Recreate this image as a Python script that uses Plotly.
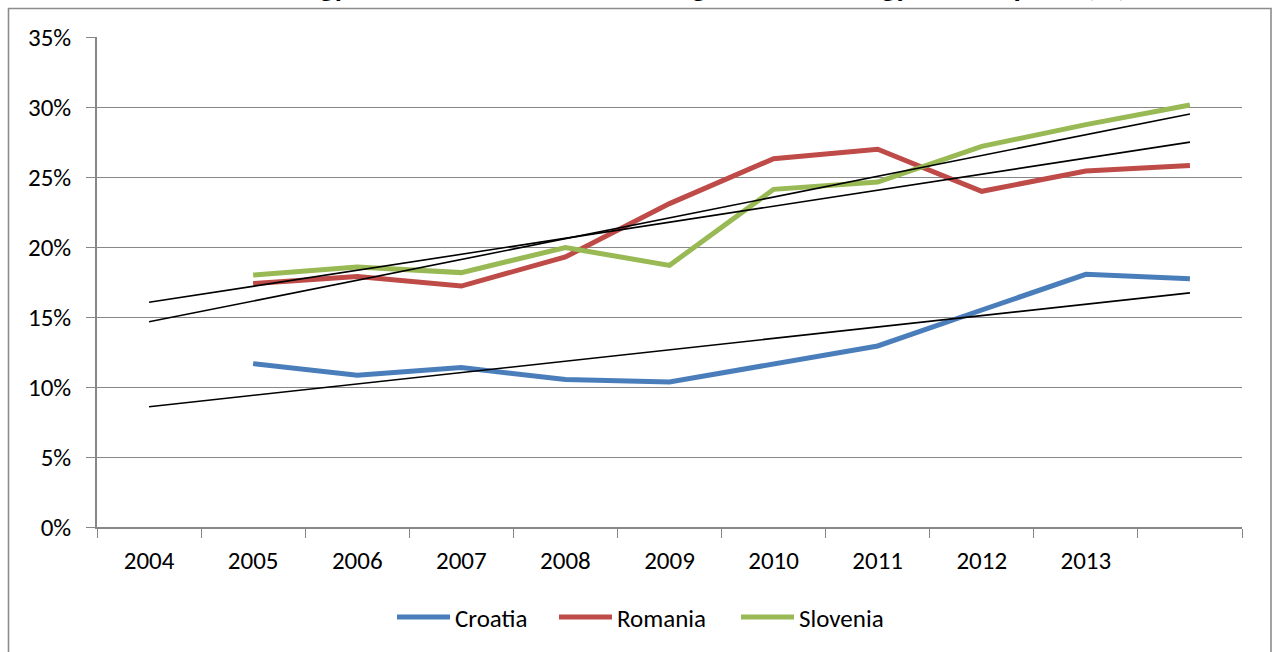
import numpy as np
import plotly.graph_objects as go

# Category slots along the x axis; only the first ten carry a year label.
year_labels = ["2004", "2005", "2006", "2007", "2008", "2009", "2010", "2011", "2012", "2013"]
n_slots = 11

# Share values (%) per slot; the first slot has no observation.
croatia = [None, 11.67, 10.84, 11.39, 10.53, 10.36, 11.64, 12.93, 15.50, 18.05, 17.74]
romania = [None, 17.39, 17.90, 17.21, 19.29, 23.10, 26.31, 26.98, 23.98, 25.43, 25.83]
slovenia = [None, 18.00, 18.57, 18.17, 19.96, 18.69, 24.12, 24.64, 27.19, 28.74, 30.14]

series_names = ["Croatia", "Romania", "Slovenia"]
series_values = [croatia, romania, slovenia]
series_colors = ["#4A7EBB", "#BE4B48", "#98B954"]

title_text = "Share of energy from renewable sources in gross final energy consumption (%)"

FONT = "Calibri, Carlito, Lato, sans-serif"
GRID = "#878787"
TXT = 25

# page geometry (pixels)
W, H = 1273, 652
PL, PR, PT, PB = 97, 1242, 37, 527


def px_x(p):
    return (p - PL) / (PR - PL)


def px_y(p):
    return (PB - p) / (PB - PT)


slots = np.arange(n_slots)
fig = go.Figure()

for name, vals, col in zip(series_names, series_values, series_colors):
    fig.add_trace(go.Scatter(
        x=slots, y=vals, mode="lines", name=name,
        line=dict(color=col, width=5), showlegend=False,
        connectgaps=False, hoverinfo="skip",
    ))

# linear trend of each series, spanning every category slot
for vals in series_values:
    xs = np.array([i for i, v in enumerate(vals) if v is not None], dtype=float)
    ys = np.array([v for v in vals if v is not None], dtype=float)
    k, b = np.polyfit(xs, ys, 1)
    ends = np.array([0, n_slots - 1], dtype=float)
    fig.add_trace(go.Scatter(
        x=ends, y=k * ends + b, mode="lines",
        line=dict(color="#000000", width=1.6), showlegend=False, hoverinfo="skip",
    ))

shapes = [
    # chart frame
    dict(type="rect", xref="paper", yref="paper",
         x0=px_x(8.5), x1=px_x(1271), y0=px_y(720), y1=px_y(8.5),
         line=dict(color="#8C8C8C", width=1.6), fillcolor="rgba(0,0,0,0)", layer="below"),
]
annotations = [
    # title sits above the frame, its lower edge at the top of the page
    dict(text="<b>" + title_text + "</b>", xref="paper", yref="paper",
         x=px_x(640), y=px_y(6.5), xanchor="center", yanchor="bottom",
         showarrow=False, font=dict(family=FONT, size=30, color="#000000")),
]

# legend: line sample followed by the series name
leg_y = 617
leg_starts = [397, 559, 741]
for name, col, x0 in zip(series_names, series_colors, leg_starts):
    shapes.append(dict(type="line", xref="paper", yref="paper",
                       x0=px_x(x0), x1=px_x(x0 + 53), y0=px_y(leg_y), y1=px_y(leg_y),
                       line=dict(color=col, width=5)))
    annotations.append(dict(text=name, xref="paper", yref="paper",
                            x=px_x(x0 + 56), y=px_y(leg_y + 1), xanchor="left", yanchor="middle",
                            showarrow=False, font=dict(family=FONT, size=TXT, color="#000000")))

fig.update_layout(
    width=W, height=H,
    margin=dict(l=PL, r=W - PR, t=PT, b=H - PB, pad=0),
    paper_bgcolor="white", plot_bgcolor="white",
    font=dict(family=FONT, size=TXT, color="#000000"),
    shapes=shapes, annotations=annotations,
    showlegend=False,
)

fig.update_xaxes(
    range=[-0.5, n_slots - 0.5],
    tickmode="array", tickvals=list(range(len(year_labels))), ticktext=year_labels,
    ticks="", showgrid=False, zeroline=False,
    showline=True, linecolor=GRID, linewidth=1.5,
    ticklabelstandoff=10,
    minor=dict(tickmode="linear", tick0=-0.5, dtick=1, ticks="outside",
               ticklen=9, tickwidth=1.3, tickcolor=GRID, showgrid=False),
    tickfont=dict(family=FONT, size=TXT),
)

fig.update_yaxes(
    range=[0, 35], tickmode="linear", tick0=0, dtick=5, ticksuffix="%",
    showgrid=True, gridcolor=GRID, gridwidth=1.3, zeroline=False,
    showline=True, linecolor=GRID, linewidth=1.5,
    ticks="outside", ticklen=9, tickwidth=1.3, tickcolor=GRID,
    ticklabelstandoff=10,
    tickfont=dict(family=FONT, size=TXT),
)

fig.write_html("out.html")
